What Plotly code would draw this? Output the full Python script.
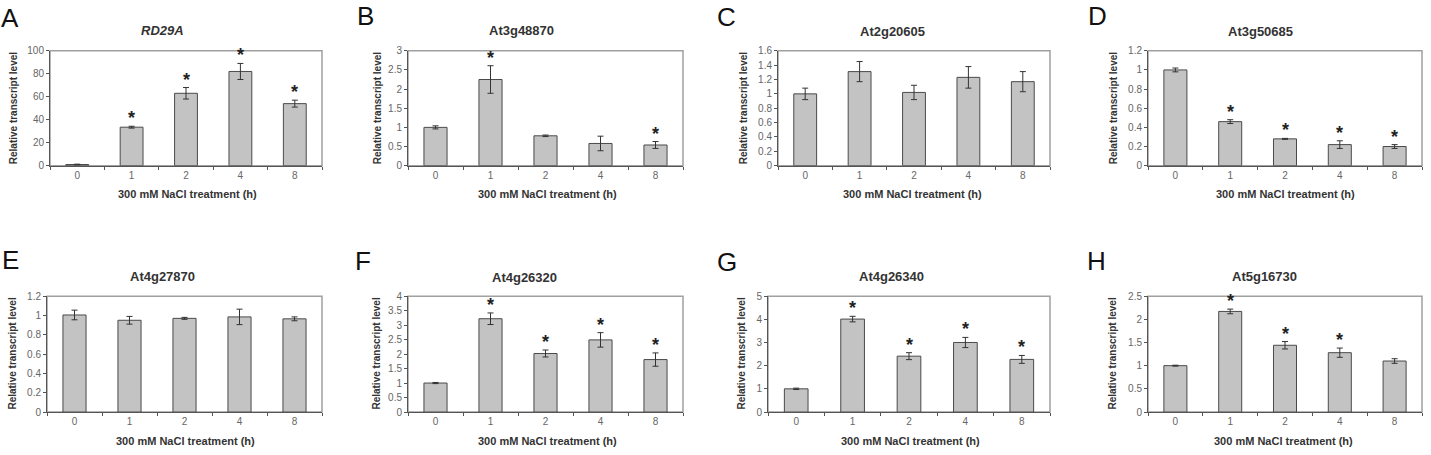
import plotly.graph_objects as go

W, H = 1431, 455

categories = ["0", "1", "2", "4", "8"]

letters = ["A", "B", "C", "D", "E", "F", "G", "H"]
titles = ["<i>RD29A</i>", "At3g48870", "At2g20605", "At3g50685",
          "At4g27870", "At4g26320", "At4g26340", "At5g16730"]

vals_A = [1.0, 33.5, 63.0, 82.0, 54.0]
err_A = [0.3, 0.8, 5.0, 7.0, 3.0]
star_A = [0, 1, 1, 1, 1]

vals_B = [1.0, 2.25, 0.78, 0.58, 0.54]
err_B = [0.04, 0.36, 0.02, 0.19, 0.09]
star_B = [0, 1, 0, 0, 1]

vals_C = [1.0, 1.31, 1.02, 1.23, 1.17]
err_C = [0.08, 0.14, 0.10, 0.15, 0.14]
star_C = [0, 0, 0, 0, 0]

vals_D = [1.0, 0.46, 0.28, 0.22, 0.20]
err_D = [0.02, 0.02, 0.005, 0.04, 0.02]
star_D = [0, 1, 1, 1, 1]

vals_E = [1.005, 0.95, 0.97, 0.985, 0.965]
err_E = [0.05, 0.04, 0.01, 0.08, 0.02]
star_E = [0, 0, 0, 0, 0]

vals_F = [1.0, 3.22, 2.02, 2.49, 1.81]
err_F = [0.02, 0.20, 0.12, 0.25, 0.23]
star_F = [0, 1, 1, 1, 1]

vals_G = [1.0, 4.01, 2.41, 3.0, 2.27]
err_G = [0.03, 0.12, 0.15, 0.22, 0.17]
star_G = [0, 1, 1, 1, 1]

vals_H = [1.0, 2.17, 1.44, 1.28, 1.10]
err_H = [0.01, 0.05, 0.08, 0.10, 0.05]
star_H = [0, 1, 1, 1, 0]

yranges = [(0, 100, 20), (0, 3, 0.5), (0, 1.6, 0.2), (0, 1.2, 0.2),
           (0, 1.2, 0.2), (0, 4, 0.5), (0, 5, 1), (0, 2.5, 0.5)]

values = [vals_A, vals_B, vals_C, vals_D, vals_E, vals_F, vals_G, vals_H]
errors = [err_A, err_B, err_C, err_D, err_E, err_F, err_G, err_H]
stars = [star_A, star_B, star_C, star_D, star_E, star_F, star_G, star_H]

# layout geometry (pixels)
plot_x = [(50, 322), (408, 683), (778, 1050), (1148, 1422),
          (47, 322), (408, 683), (768, 1050), (1148, 1422)]
plot_y = [(46, 164)] * 4 + [(298, 417)] * 4
title_pos = [(162, 25), (521, 25), (892, 26), (1260, 26),
             (162, 278), (524, 279), (891, 278), (1264, 278)]
xtitle_pos = [(187, 193), (547, 193), (913, 193), (1285, 193),
              (185, 447), (547, 447), (910, 447), (1283, 447)]
ytitle_pos = [(13, 105), (377, 105), (743, 105), (1113, 105),
              (13, 357), (377, 357), (742, 357), (1113, 357)]
letter_pos = [(10, 12), (365, 10), (726, 11), (1097, 10),
              (10, 261), (363, 262), (727, 263), (1096, 262)]

FONT = "Arial, Liberation Sans, sans-serif"
BAR_FILL = "#c3c3c3"
BAR_LINE = "#4a4a4a"
AXIS = "#555555"
FRAME = "#a0a0a0"

def px(x):
    return x / W

def py(y):
    return 1 - y / H

fig = go.Figure()
annotations = []
shapes = []
layout = {}

for i in range(8):
    n = "" if i == 0 else str(i + 1)
    xa, ya = "x" + n, "y" + n
    fig.add_trace(go.Bar(
        x=categories, y=values[i], xaxis=xa, yaxis=ya,
        width=0.42,
        marker=dict(color=BAR_FILL, line=dict(color=BAR_LINE, width=1)),
        error_y=dict(type="data", array=errors[i], visible=True,
                     color="#333333", thickness=1, width=3),
        showlegend=False, hoverinfo="skip",
    ))
    y0, y1, dt = yranges[i]
    layout["xaxis" + n] = dict(
        domain=[px(plot_x[i][0]), px(plot_x[i][1])], anchor=ya,
        type="category", range=[-0.5, 4.5], tickson="boundaries",
        ticks="outside", ticklen=3, tickcolor=AXIS, showline=True,
        linecolor=AXIS, linewidth=1, showgrid=False, zeroline=False,
        tickfont=dict(family=FONT, size=10, color="#666666"),
        fixedrange=True,
    )
    layout["yaxis" + n] = dict(
        domain=[py(plot_y[i][1]), py(plot_y[i][0])], anchor=xa,
        range=[y0, y1], dtick=dt, tick0=0, ticks="outside", ticklen=3,
        tickcolor=AXIS, showline=True, linecolor=AXIS, linewidth=1,
        showgrid=False, zeroline=False,
        tickfont=dict(family=FONT, size=10, color="#666666"),
        fixedrange=True,
    )
    shapes.append(dict(type="rect", xref=xa + " domain", yref=ya + " domain",
                       x0=0, x1=1, y0=0, y1=1, layer="below",
                       line=dict(color=FRAME, width=1.5)))
    # asterisks (x given as category index)
    for j, s in enumerate(stars[i]):
        if s:
            annotations.append(dict(
                x=j, y=values[i][j] + errors[i][j], xref=xa, yref=ya,
                text="<b>*</b>", showarrow=False, yanchor="bottom", yshift=-4,
                font=dict(family=FONT, size=18, color="#222222"),
            ))
    # titles
    annotations.append(dict(
        x=px(title_pos[i][0]), y=py(title_pos[i][1]), xref="paper", yref="paper",
        text="<b>" + titles[i] + "</b>", showarrow=False,
        xanchor="center", yanchor="middle",
        font=dict(family=FONT, size=13, color="#333333"),
    ))
    annotations.append(dict(
        x=px(xtitle_pos[i][0]), y=py(xtitle_pos[i][1]), xref="paper", yref="paper",
        text="<b>300 mM NaCl treatment (h)</b>", showarrow=False,
        xanchor="center", yanchor="middle",
        font=dict(family=FONT, size=11, color="#333333"),
    ))
    annotations.append(dict(
        x=px(ytitle_pos[i][0]), y=py(ytitle_pos[i][1]), xref="paper", yref="paper",
        text="<b>Relative transcript level</b>", showarrow=False, textangle=-90,
        xanchor="center", yanchor="middle",
        font=dict(family=FONT, size=10, color="#333333"),
    ))
    annotations.append(dict(
        x=px(letter_pos[i][0]), y=py(letter_pos[i][1]), xref="paper", yref="paper",
        text=letters[i], showarrow=False, xanchor="center", yanchor="middle",
        font=dict(family=FONT, size=26, color="#111111"),
    ))

fig.update_layout(
    width=W, height=H, margin=dict(l=0, r=0, t=0, b=0),
    paper_bgcolor="white", plot_bgcolor="white",
    annotations=annotations, shapes=shapes, showlegend=False,
    **layout,
)

fig.write_html("out.html", include_plotlyjs=True, config={"displayModeBar": False})
